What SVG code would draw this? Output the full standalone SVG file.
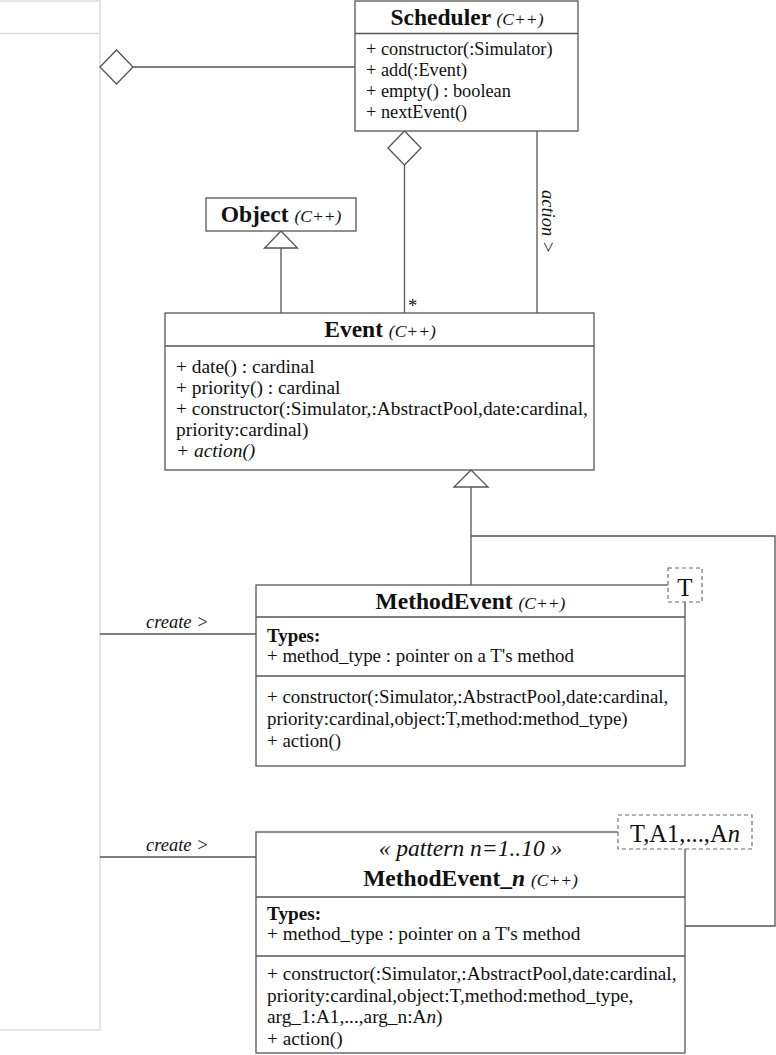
<svg xmlns="http://www.w3.org/2000/svg" width="776" height="1055" viewBox="0 0 776 1055">
<style>
text{font-family:"Liberation Serif","Times New Roman",serif;fill:#111}
.t{font-size:23.5px;font-weight:bold}
.s{font-size:17.5px;font-style:italic;font-weight:normal}
.b{font-size:18.5px}
.bb{font-weight:bold}
.i{font-style:italic}
.box{fill:#fff;stroke:#555;stroke-width:1.3}
.ln{fill:none;stroke:#555;stroke-width:1.3}
.tpl{fill:#fff;stroke:#666;stroke-width:1.1;stroke-dasharray:4 3}
.ghost{fill:none;stroke:#dcdcdc;stroke-width:1.5}
</style>
<rect width="776" height="1055" fill="#fff"/>
<g id="frame">
<path class="ghost" d="M0,1 H100 V1030 H0"/>
<line class="ghost" x1="0" y1="33.5" x2="100" y2="33.5"/>
</g>
<g id="connectors">
<line class="ln" x1="133" y1="67" x2="355" y2="67"/>
<polygon class="box" points="100,67 116.5,50 133,67 116.5,84"/>
<line class="ln" x1="404.5" y1="165" x2="404.5" y2="313"/>
<polygon class="box" points="404.5,131 421,148 404.5,165 388,148"/>
<line class="ln" x1="537" y1="131" x2="537" y2="313"/>
<text class="b i" font-size="19" transform="translate(542,190) rotate(90)">action &gt;</text>
<text class="b" x="408" y="312">*</text>
<line class="ln" x1="281" y1="248" x2="281" y2="313"/>
<polygon class="box" points="281,231 297.5,248 264.5,248"/>
<line class="ln" x1="471" y1="487" x2="471" y2="585"/>
<polygon class="box" points="471,470 488,487 454,487"/>
<path class="ln" d="M471,536 H775 V926 H685"/>
<line class="ln" x1="100" y1="634" x2="256" y2="634"/>
<text class="b i" x="146" y="628">create &gt;</text>
<line class="ln" x1="100" y1="857" x2="256" y2="857"/>
<text class="b i" x="146" y="851">create &gt;</text>
</g>
<g id="scheduler">
<rect class="box" x="355" y="1" width="223" height="130"/>
<line class="ln" x1="355" y1="33.5" x2="578" y2="33.5"/>
<text class="t" x="467" y="25" text-anchor="middle">Scheduler <tspan class="s">(C++)</tspan></text>
<g font-size="18.3">
<text x="366" y="55">+ constructor(:Simulator)</text>
<text x="366" y="76">+ add(:Event)</text>
<text x="366" y="97">+ empty() : boolean</text>
<text x="366" y="118">+ nextEvent()</text>
</g>
</g>
<g id="object">
<rect class="box" x="206" y="198" width="150" height="33"/>
<text class="t" x="281" y="222" text-anchor="middle">Object <tspan class="s">(C++)</tspan></text>
</g>
<g id="event">
<rect class="box" x="165" y="313" width="429" height="157"/>
<line class="ln" x1="165" y1="346" x2="594" y2="346"/>
<text class="t" x="380" y="337" text-anchor="middle">Event <tspan class="s">(C++)</tspan></text>
<g font-size="19.4">
<text x="176" y="373">+ date() : cardinal</text>
<text x="176" y="394">+ priority() : cardinal</text>
<text x="176" y="415">+ constructor(:Simulator,:AbstractPool,date:cardinal,</text>
<text x="176" y="436">priority:cardinal)</text>
<text class="i" x="176" y="457">+ action()</text>
</g>
</g>
<g id="methodevent">
<rect class="box" x="256" y="585" width="429" height="181"/>
<line class="ln" x1="256" y1="617" x2="685" y2="617"/>
<line class="ln" x1="256" y1="676" x2="685" y2="676"/>
<text class="t" x="470.5" y="609" text-anchor="middle">MethodEvent <tspan class="s">(C++)</tspan></text>
<g font-size="18.9">
<text class="bb" x="267" y="642">Types:</text>
<text x="267" y="662">+ method_type : pointer on a T's method</text>
<text x="267" y="703">+ constructor(:Simulator,:AbstractPool,date:cardinal,</text>
<text x="267" y="725">priority:cardinal,object:T,method:method_type)</text>
<text x="267" y="747">+ action()</text>
</g>
<rect class="tpl" x="668" y="568" width="34" height="34"/>
<text x="685" y="596" font-size="25" text-anchor="middle">T</text>
</g>
<g id="methodevent_n">
<rect class="box" x="256" y="832" width="429" height="221"/>
<line class="ln" x1="256" y1="897" x2="685" y2="897"/>
<line class="ln" x1="256" y1="956" x2="685" y2="956"/>
<text x="470.5" y="856" font-size="23.5" font-style="italic" text-anchor="middle">« pattern n=1..10 »</text>
<text class="t" x="470.5" y="886" text-anchor="middle">MethodEvent_<tspan font-style="italic">n</tspan> <tspan class="s">(C++)</tspan></text>
<g font-size="19.3">
<text class="bb" x="267" y="920">Types:</text>
<text x="267" y="940">+ method_type : pointer on a T's method</text>
<text x="267" y="980">+ constructor(:Simulator,:AbstractPool,date:cardinal,</text>
<text x="267" y="1002">priority:cardinal,object:T,method:method_type,</text>
<text x="267" y="1023">arg_1:A1,...,arg_n:A<tspan class="i">n</tspan>)</text>
<text x="267" y="1045">+ action()</text>
</g>
<rect class="tpl" x="618" y="815" width="134" height="34"/>
<text x="685" y="842" font-size="24.5" text-anchor="middle">T,A1,...,A<tspan font-style="italic">n</tspan></text>
</g>
</svg>
